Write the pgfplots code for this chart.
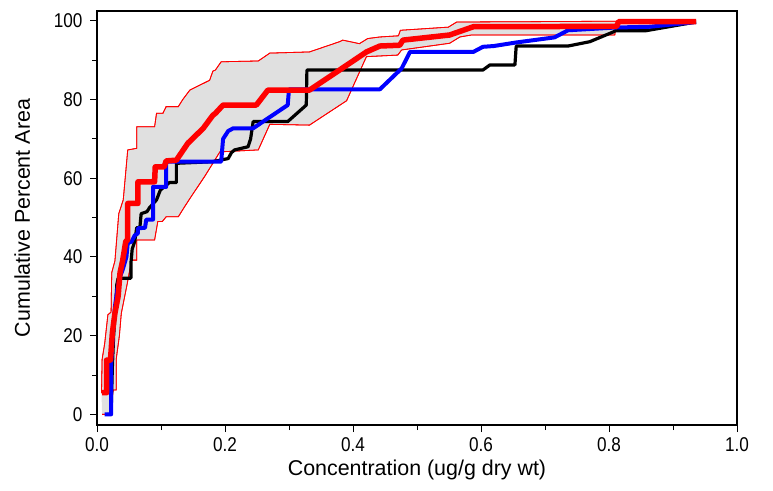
\documentclass[border=0pt]{standalone}
\usepackage{fontspec}
\setmainfont{Liberation Sans}
\newfontfamily\tickfont[FakeStretch=0.86]{Liberation Sans}
\usepackage{pgfplots}
\pgfplotsset{compat=1.18}
\usepgfplotslibrary{fillbetween}
\definecolor{bandgray}{RGB}{224,224,224}
\begin{document}
\begin{tikzpicture}
\begin{axis}[
  name=ax, at={(0,0)}, anchor=south west,
  scale only axis, width=640bp, height=414bp,
  xmin=0, xmax=1, ymin=-2.7, ymax=102.5,
  tick align=outside, xtick pos=bottom, ytick pos=left,
  xtick={0,0.2,0.4,0.6,0.8,1.0},
  minor xtick={0.1,0.3,0.5,0.7,0.9},
  ytick={0,20,40,60,80,100},
  minor ytick={10,30,50,70,90},
  /pgf/number format/assume math mode=true,
  major tick length=7bp, minor tick length=5bp,
  every tick/.style={black, line width=1bp},
  axis line style={line width=1.3bp},
  ticklabel style={font=\tickfont\fontsize{20}{22}\selectfont},
  yticklabel style={xshift=-4bp},
  xticklabel style={yshift=-2bp, /pgf/number format/.cd, fixed, fixed zerofill, precision=1},
  every axis x label/.style={at={(axis description cs:0.5,-0.109)}, anchor=center, font=\fontsize{21.5}{24}\selectfont},
  every axis y label/.style={at={(axis description cs:-0.117,0.5)}, rotate=90, anchor=center, font=\fontsize{21.5}{24}\selectfont},
  xlabel={Concentration (ug/g dry wt)},
  ylabel={Cumulative Percent Area},
  clip=false,
]
% upper envelope of band
\addplot[name path=upper, red, line width=0.8bp] coordinates {
(0.007,5.4) (0.008,14) (0.012,18) (0.017,25.3) (0.022,26) (0.023,36)
(0.028,39) (0.031,45) (0.034,51) (0.041,54.5) (0.048,67.2) (0.062,67.6)
(0.062,73.1) (0.090,73.1) (0.093,76.5) (0.103,76.5) (0.108,78.2) (0.127,78.2)
(0.134,80) (0.145,82.4) (0.176,84.9) (0.181,87.2) (0.185,87.5) (0.194,89.6)
(0.252,89.8) (0.270,91.8) (0.332,92.1) (0.379,94.7) (0.384,95.1) (0.410,94.2)
(0.423,95.5) (0.442,95.9) (0.471,96.2) (0.474,97.6) (0.549,98.4) (0.562,99.7)
(0.936,100)
};
% lower envelope of band
\addplot[name path=lower, red, line width=0.8bp] coordinates {
(0.008,0) (0.022,0) (0.025,6.2) (0.030,6.2) (0.030,14) (0.035,20)
(0.038,25.7) (0.047,33) (0.054,39.2) (0.062,39.2) (0.062,44.3) (0.090,44.3)
(0.095,49) (0.102,49) (0.108,50.2) (0.127,50.2) (0.137,52.8) (0.147,55.3)
(0.168,60.4) (0.181,63.8) (0.192,66.7) (0.252,67.2) (0.270,73.7) (0.332,73.5)
(0.390,79.7) (0.421,90.9) (0.470,91.3) (0.476,92.6) (0.551,94.3) (0.567,95.9)
(0.585,96.4) (0.809,96.4) (0.812,99.5) (0.936,99.7)
};
\addplot[bandgray, draw=none] fill between[of=upper and lower];
% redraw thin edges on top of fill
\addplot[red, line width=0.8bp] coordinates {
(0.007,5.4) (0.008,14) (0.012,18) (0.017,25.3) (0.022,26) (0.023,36)
(0.028,39) (0.031,45) (0.034,51) (0.041,54.5) (0.048,67.2) (0.062,67.6)
(0.062,73.1) (0.090,73.1) (0.093,76.5) (0.103,76.5) (0.108,78.2) (0.127,78.2)
(0.134,80) (0.145,82.4) (0.176,84.9) (0.181,87.2) (0.185,87.5) (0.194,89.6)
(0.252,89.8) (0.270,91.8) (0.332,92.1) (0.379,94.7) (0.384,95.1) (0.410,94.2)
(0.423,95.5) (0.442,95.9) (0.471,96.2) (0.474,97.6) (0.549,98.4) (0.562,99.7)
(0.936,100)
};
\addplot[red, line width=0.8bp] coordinates {
(0.008,0) (0.022,0) (0.025,6.2) (0.030,6.2) (0.030,14) (0.035,20)
(0.038,25.7) (0.047,33) (0.054,39.2) (0.062,39.2) (0.062,44.3) (0.090,44.3)
(0.095,49) (0.102,49) (0.108,50.2) (0.127,50.2) (0.137,52.8) (0.147,55.3)
(0.168,60.4) (0.181,63.8) (0.192,66.7) (0.252,67.2) (0.270,73.7) (0.332,73.5)
(0.390,79.7) (0.421,90.9) (0.470,91.3) (0.476,92.6) (0.551,94.3) (0.567,95.9)
(0.585,96.4) (0.809,96.4) (0.812,99.5) (0.936,99.7)
};
% black series
\addplot[black, line width=3.2bp, line join=round] coordinates {
(0.016,0) (0.022,0) (0.024,12) (0.026,20) (0.029,27) (0.031,33) (0.033,34.6)
(0.053,34.6) (0.053,38.4) (0.055,42) (0.059,44) (0.062,47.4) (0.067,47.5)
(0.069,51) (0.078,51.5) (0.082,52.5) (0.093,54.5) (0.099,57) (0.113,58.9)
(0.124,58.9) (0.124,63.8) (0.180,64.2) (0.205,65) (0.210,66.5) (0.215,67.2)
(0.236,68) (0.240,70) (0.244,74.4) (0.298,74.4) (0.327,78.6) (0.328,87.5)
(0.603,87.5) (0.614,88.8) (0.653,88.8) (0.655,93.6) (0.736,93.6) (0.770,94.7)
(0.807,97.2) (0.810,97.5) (0.858,97.5) (0.936,99.7)
};
% blue series
\addplot[blue, line width=4bp, line join=round] coordinates {
(0.012,0) (0.022,0) (0.022,12.6) (0.025,20.7) (0.028,27.4) (0.032,32)
(0.036,35) (0.040,36.7) (0.046,40) (0.048,43.5) (0.054,43.9) (0.059,45.5)
(0.064,46) (0.064,47.3) (0.075,47.4) (0.077,49.5) (0.0875,49.5) (0.0875,57.8)
(0.108,57.8) (0.108,64.2) (0.194,64.2) (0.197,70) (0.205,72) (0.213,72.7)
(0.244,72.7) (0.298,78.6) (0.300,82.6) (0.442,82.6) (0.476,87.9) (0.489,92.1)
(0.588,92.1) (0.603,93.4) (0.620,93.6) (0.655,94.5) (0.715,95.8) (0.736,97.6)
(0.810,98.3) (0.864,98.5) (0.936,99.7)
};
% red median
\addplot[red, line width=5.5bp, line join=round] coordinates {
(0.008,5.5) (0.015,5.5) (0.015,13.8) (0.021,13.8) (0.024,20.7) (0.028,25.7)
(0.033,30) (0.036,36) (0.040,39) (0.045,44) (0.048,44.3) (0.048,53.6)
(0.064,53.6) (0.064,59.1) (0.090,59.1) (0.091,62.9) (0.105,62.9) (0.108,64.4)
(0.124,64.6) (0.142,68.9) (0.166,72.7) (0.181,76) (0.185,76.5) (0.197,78.6)
(0.249,78.6) (0.267,82.4) (0.332,82.4) (0.379,87.5) (0.421,92.1) (0.442,93.6)
(0.473,93.8) (0.478,95.1) (0.551,96.4) (0.588,98.5) (0.812,98.6) (0.815,99.8)
(0.936,99.8)
};
\end{axis}
\pgfresetboundingbox
\path (ax.south west) ++(-97bp,-66bp) rectangle ++(773bp,491bp);
\end{tikzpicture}
\end{document}
